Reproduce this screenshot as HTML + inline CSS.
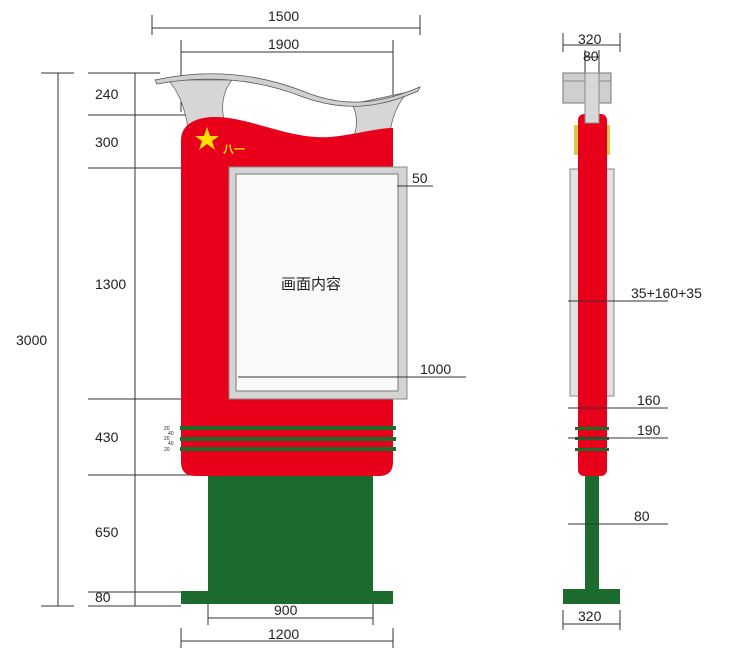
<!DOCTYPE html>
<html><head><meta charset="utf-8"><style>
html,body{margin:0;padding:0;background:#fff;}
svg{display:block;}
text{font-family:"Liberation Sans","Noto Sans CJK SC",sans-serif;fill:#222;}
</style></head><body>
<svg width="750" height="650" viewBox="0 0 750 650" xmlns="http://www.w3.org/2000/svg">
<g stroke="#333" stroke-width="1" fill="none">
<line x1="152" y1="28" x2="420" y2="28"/><line x1="152" y1="15" x2="152" y2="35"/><line x1="420" y1="15" x2="420" y2="35"/>
<line x1="181" y1="52" x2="393" y2="52"/><line x1="181" y1="40" x2="181" y2="112"/><line x1="393" y1="40" x2="393" y2="112"/>
<line x1="58" y1="73" x2="58" y2="606"/><line x1="41" y1="73" x2="74" y2="73"/><line x1="41" y1="606" x2="74" y2="606"/>
<line x1="135" y1="73" x2="135" y2="606"/>
<line x1="88" y1="73" x2="160" y2="73"/>
<line x1="88" y1="115" x2="190" y2="115"/>
<line x1="88" y1="168" x2="235" y2="168"/>
<line x1="88" y1="399" x2="200" y2="399"/>
<line x1="88" y1="475" x2="200" y2="475"/>
<line x1="88" y1="592" x2="200" y2="592"/>
<line x1="88" y1="606" x2="181" y2="606"/>
<line x1="208" y1="618" x2="373" y2="618"/><line x1="208" y1="600" x2="208" y2="625"/><line x1="373" y1="600" x2="373" y2="625"/>
<line x1="181" y1="641" x2="393" y2="641"/><line x1="181" y1="628" x2="181" y2="648"/><line x1="393" y1="628" x2="393" y2="648"/>
</g>
<!-- top cap wings -->
<path d="M168,80 L232,80 C222,92 220,110 226,126 L188,128 C185,108 178,90 168,80 Z" fill="#d6d6d6" stroke="#666" stroke-width="0.8"/>
<path d="M352,104 L408,92 C398,102 392,118 390,132 L352,140 C358,128 358,115 352,104 Z" fill="#d6d6d6" stroke="#666" stroke-width="0.8"/>
<!-- ribbon -->
<path d="M155,80 C210,68 260,74 305,92 C345,108 380,104 420,87 L418,91 C380,108 345,112 303,97 C260,80 210,74 157,84 Z" fill="#d0d0d0" stroke="#555" stroke-width="0.8"/>
<!-- red body -->
<path d="M181,140 C181,125 195,117 215,117 C250,117 290,140 330,137 C355,135 375,128 393,128 L393,462 Q393,476 379,476 L195,476 Q181,476 181,462 Z" fill="#e8001b"/>
<polygon points="207,127 210,136 219,136 212,141 215,150 207,144 199,150 202,141 195,136 204,136" fill="#ffe000"/>
<text x="223" y="153" font-size="11" font-weight="bold" style="fill:#ffe000">八一</text>
<rect x="229" y="167" width="178" height="232" fill="#d4d4d4" stroke="#888" stroke-width="1"/>
<rect x="236" y="174" width="162" height="217" fill="#f9f9f9" stroke="#777" stroke-width="1"/>
<text x="281" y="289" font-size="15">画面内容</text>
<g stroke="#333" stroke-width="1"><line x1="397" y1="186" x2="433" y2="186"/><line x1="238" y1="377" x2="466" y2="377"/></g>
<text x="412" y="183" font-size="14">50</text>
<text x="420" y="374" font-size="14">1000</text>
<g fill="#1c6b2e"><rect x="180" y="426" width="216" height="4"/><rect x="180" y="437" width="216" height="4"/><rect x="180" y="447" width="216" height="4"/></g>
<g font-size="5" fill="#555"><text x="164" y="430">20</text><text x="168" y="435">40</text><text x="164" y="440">20</text><text x="168" y="445">40</text><text x="164" y="451">20</text></g>
<rect x="208" y="476" width="165" height="116" fill="#1c6b2e"/>
<rect x="181" y="591" width="212" height="13" fill="#1c6b2e"/>
<g font-size="14">
<text x="268" y="21">1500</text><text x="268" y="49">1900</text>
<text x="16" y="345">3000</text>
<text x="95" y="99">240</text><text x="95" y="147">300</text><text x="95" y="289">1300</text>
<text x="95" y="442">430</text><text x="95" y="537">650</text><text x="95" y="602">80</text>
<text x="274" y="615">900</text><text x="268" y="639">1200</text>
</g>
<!-- side view -->
<g stroke="#333" stroke-width="1" fill="none">
<line x1="563" y1="45" x2="620" y2="45"/><line x1="563" y1="33" x2="563" y2="52"/><line x1="620" y1="33" x2="620" y2="52"/>
<line x1="585" y1="57" x2="599" y2="57"/><line x1="585" y1="50" x2="585" y2="75"/><line x1="599" y1="50" x2="599" y2="75"/>
<line x1="563" y1="624" x2="620" y2="624"/><line x1="563" y1="610" x2="563" y2="630"/><line x1="620" y1="610" x2="620" y2="630"/>
</g>
<rect x="563" y="73" width="48" height="30" fill="#cfcfcf" stroke="#777"/>
<line x1="563" y1="81" x2="611" y2="81" stroke="#888"/>
<rect x="570" y="169" width="44" height="227" fill="#e2e2e2" stroke="#888"/>
<rect x="574" y="125" width="4" height="30" fill="#d8c84a"/><rect x="606" y="125" width="4" height="30" fill="#d8c84a"/>
<rect x="578" y="114" width="29" height="362" rx="6" fill="#e8001b"/>
<rect x="585" y="73" width="14" height="50" fill="#d8d8d8" stroke="#888"/>
<g fill="#1c6b2e"><rect x="575" y="427" width="34" height="3"/><rect x="575" y="437" width="34" height="3"/><rect x="575" y="448" width="34" height="3"/></g>
<rect x="585" y="476" width="14" height="114" fill="#1c6b2e"/>
<rect x="563" y="589" width="57" height="15" fill="#1c6b2e"/>
<g stroke="#333" stroke-width="1">
<line x1="568" y1="301" x2="668" y2="301"/><line x1="568" y1="408" x2="668" y2="408"/><line x1="568" y1="438" x2="668" y2="438"/><line x1="568" y1="524" x2="668" y2="524"/>
</g>
<g font-size="14">
<text x="578" y="44">320</text><text x="583" y="61">80</text>
<text x="631" y="298">35+160+35</text><text x="637" y="405">160</text><text x="637" y="435">190</text><text x="634" y="521">80</text>
<text x="578" y="621">320</text>
</g>
</svg>
</body></html>
